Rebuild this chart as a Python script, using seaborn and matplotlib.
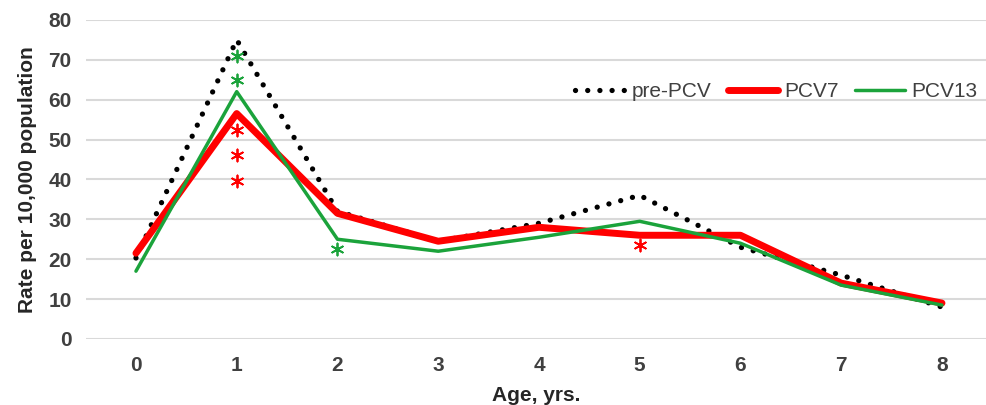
## ==========================================
## Pneumonia rate by age: pre-PCV / PCV7 / PCV13
## ==========================================

import pandas as pd
import numpy as np
import matplotlib.pyplot as plt
import seaborn as sns

## ==========================================
## Data
## ==========================================

ages = [0, 1, 2, 3, 4, 5, 6, 7, 8]

pre_pcv = [20.3, 75.0, 32.0, 24.5, 29.0, 36.0, 23.0, 16.0, 8.0]
pcv7 = [21.5, 56.5, 31.5, 24.5, 28.0, 26.0, 26.0, 14.0, 9.0]
pcv13 = [17.0, 62.0, 25.0, 22.0, 25.5, 29.5, 24.0, 13.5, 8.5]

## significance markers
green_star_x = [1, 1, 2]
green_star_y = [71.0, 65.0, 22.5]
red_star_x = [1, 1, 1, 5]
red_star_y = [52.5, 46.2, 39.7, 23.6]

yticks = [0, 10, 20, 30, 40, 50, 60, 70, 80]

## ==========================================
## Style
## ==========================================

sns.set_style("white")
plt.rcParams["font.family"] = ["Liberation Sans", "DejaVu Sans"]

RED = "#ff0000"
GREEN = "#1ba33b"
GREY_TXT = "#404040"
FS = 15

fig = plt.figure(figsize=(9.86, 4.05), dpi=100)
ax = fig.add_axes([0.0868, 0.163, 0.9132, 0.788])

## ==========================================
## Lines
## ==========================================

df = pd.DataFrame({
    "age": ages,
    "pre-PCV": pre_pcv,
    "PCV7": pcv7,
    "PCV13": pcv13,
})

sns.lineplot(
    data=df, x="age", y="pre-PCV", ax=ax,
    color="black", linewidth=3.8, label="pre-PCV",
    linestyle=(0, (0.01, 2.3)), dash_capstyle="round",
)

sns.lineplot(
    data=df, x="age", y="PCV7", ax=ax,
    color=RED, linewidth=5.0, label="PCV7",
    solid_capstyle="round",
)

sns.lineplot(
    data=df, x="age", y="PCV13", ax=ax,
    color=GREEN, linewidth=2.5, label="PCV13",
)

## ==========================================
## Asterisks
## ==========================================

star = (6, 2, 0)

sns.scatterplot(
    x=green_star_x, y=green_star_y, ax=ax,
    marker=star, s=75, color=GREEN, linewidth=1.3,
    legend=False, zorder=5,
)

sns.scatterplot(
    x=red_star_x, y=red_star_y, ax=ax,
    marker=star, s=75, color=RED, linewidth=1.3,
    legend=False, zorder=5,
)

## ==========================================
## Axes
## ==========================================

ax.set_xlim(-0.5, 8.437)
ax.set_ylim(0, 80)
ax.set_xticks(ages)
ax.set_yticks(yticks)

ax.grid(axis="y", color="#d9d9d9", linewidth=1.5)
ax.set_axisbelow(True)

for s in ax.spines.values():
    s.set_visible(False)

ax.tick_params(axis="both", length=0, labelsize=FS, labelcolor=GREY_TXT)
ax.tick_params(axis="x", pad=12)
ax.tick_params(axis="y", pad=10)
for lbl in ax.get_xticklabels() + ax.get_yticklabels():
    lbl.set_fontweight("bold")

ax.set_xlabel("Age, yrs.", fontsize=FS, fontweight="bold", labelpad=8)
ax.set_ylabel("Rate per 10,000 population", fontsize=FS,
              fontweight="bold", labelpad=8)

## ==========================================
## Legend
## ==========================================

leg = ax.legend(
    loc="center right", bbox_to_anchor=(1.0, 0.775),
    ncol=3, frameon=False, fontsize=FS,
    handlelength=2.4, handletextpad=0.3, columnspacing=0.8,
    borderaxespad=0.0,
)
for t in leg.get_texts():
    t.set_color(GREY_TXT)

plt.savefig("out.png", dpi=100)
plt.close()
